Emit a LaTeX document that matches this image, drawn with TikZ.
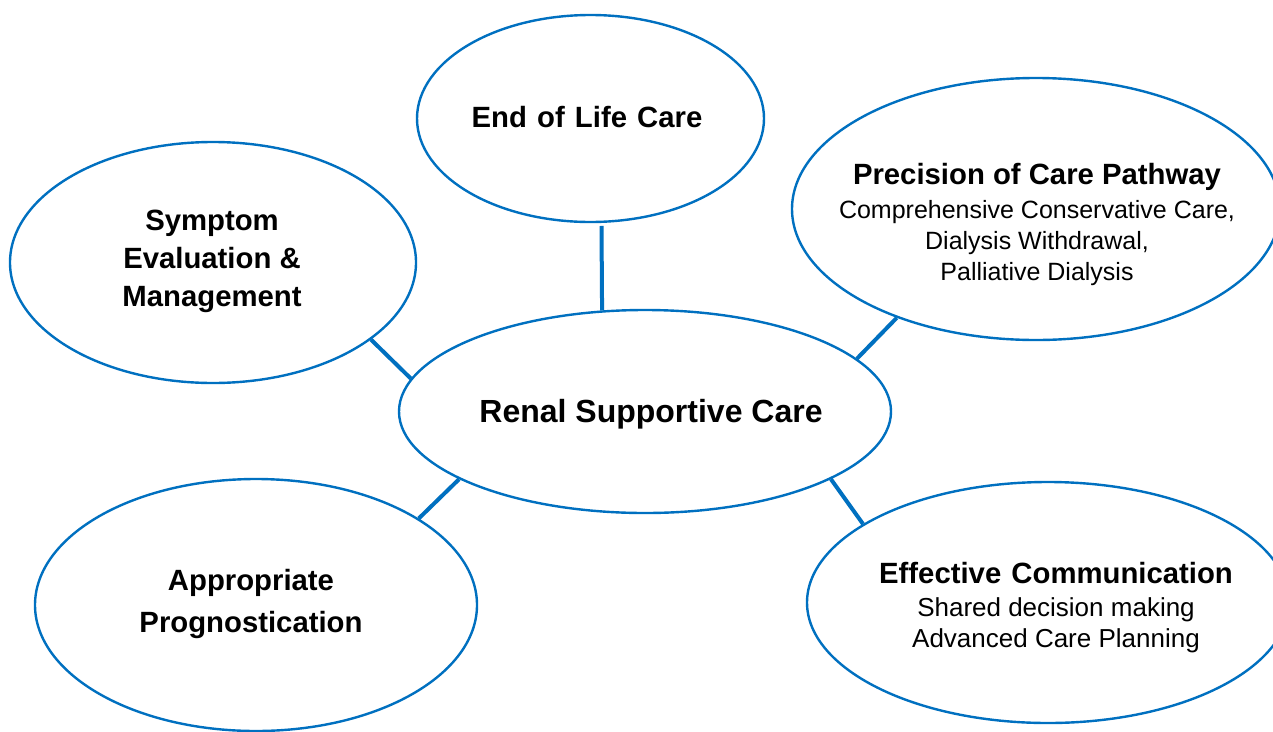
\documentclass[tikz,border=0pt]{standalone}
\usepackage{fontspec}
\setmainfont{Liberation Sans}
\usetikzlibrary{shapes.geometric}
\definecolor{rscblue}{RGB}{0,112,192}
\begin{document}
\begin{tikzpicture}[x=1pt,y=-1pt,
  bubble/.style={draw=rscblue, line width=2.4pt, ellipse, inner sep=0pt, fill=white},
  link/.style={draw=rscblue, line width=4pt},
  head/.style={font=\bfseries\fontsize{29.3}{38}\selectfont, align=center, inner sep=0pt},
  body/.style={font=\fontsize{25}{31}\selectfont, align=center, inner sep=0pt}]
\useasboundingbox (0,0) rectangle (1273,731);
\clip (0,0) rectangle (1273,731);
\fill[white] (0,0) rectangle (1273,731);

% ellipses
\node[bubble, minimum width=347pt, minimum height=207pt] (eol) at (590.5,118.5) {};
\node[bubble, minimum width=406pt, minimum height=241pt] (sym) at (213,262.5) {};
\node[bubble, minimum width=488pt, minimum height=262pt] (pre) at (1036,209) {};
\node[bubble, minimum width=492pt, minimum height=203pt] (rsc) at (645,411.5) {};
\node[bubble, minimum width=442pt, minimum height=252pt] (pro) at (256,605) {};
\node[bubble, minimum width=482pt, minimum height=241pt] (eff) at (1048,602.5) {};

% connectors
\draw[link, shorten <=3pt] (eol.-84.2) -- (rsc.113.6);
\draw[link] (sym.-26.4) -- (rsc.172.1);
\draw[link] (pre.-142.7) -- (rsc.14.75);
\draw[link] (rsc.-160.3) -- (pro.28.4);
\draw[link] (rsc.-20.1) -- (eff.157.1);

% labels
\node[head] (eolT) at (587,117) {End\hspace{2pt} of\hspace{2pt} Life\hspace{2pt} Care};
\node[head] (symT) at (212,261) {Symptom\\Evaluation \&\\Management};
\node[head, font=\bfseries\fontsize{29.3}{42}\selectfont] (proT) at (251,604) {Appropriate\\Prognostication};
\node[head, font=\bfseries\fontsize{32}{38}\selectfont] (rscT) at (651,414) {Renal Supportive Care};
\node[body] (preT) at (1037,224) {{\bfseries\fontsize{29.3}{35}\selectfont Precision of Care Pathway}\\[3pt]
  Comprehensive Conservative Care,\\Dialysis Withdrawal,\\Palliative Dialysis};
\node[body, font=\fontsize{26}{31}\selectfont] (effT) at (1056,607.5) {{\bfseries\fontsize{29.3}{35}\selectfont Effective\hspace{2pt} Communication}\\[2pt]
  Shared decision making\\Advanced Care Planning};
\end{tikzpicture}
\end{document}
